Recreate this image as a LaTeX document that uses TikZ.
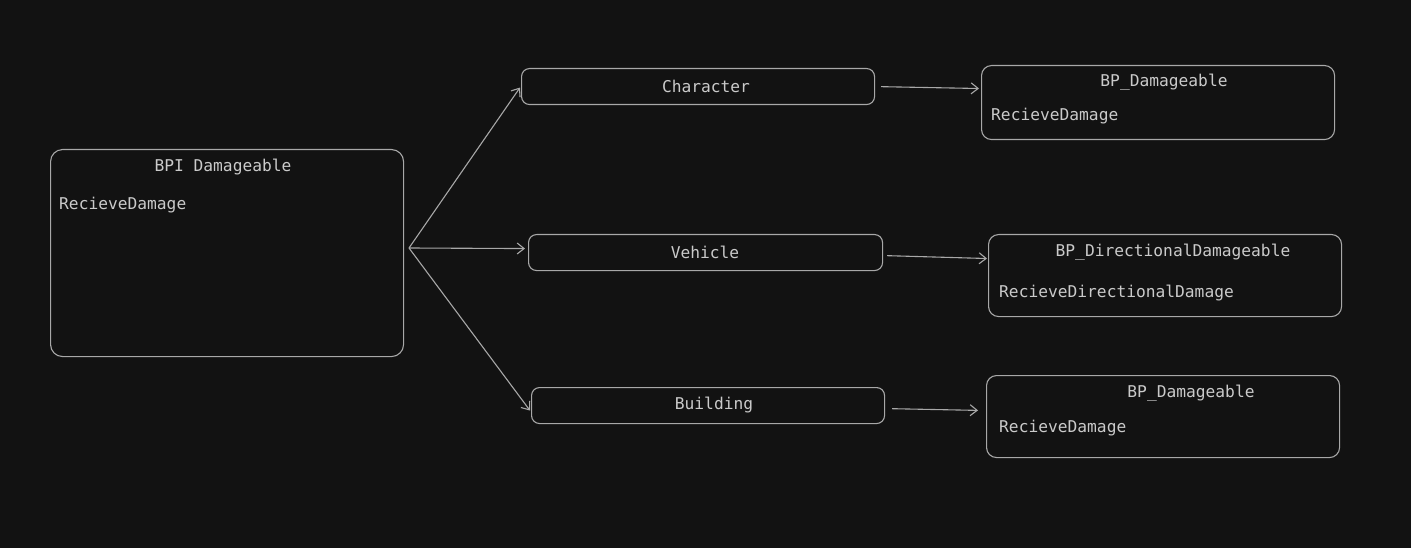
\documentclass[tikz,border=0pt]{standalone}
\usepackage{fontspec}
\setmonofont{DejaVu Sans Mono}
\usetikzlibrary{arrows.meta,calc}
\definecolor{bg}{HTML}{121212}
\definecolor{stroke}{HTML}{A8A8A8}
\definecolor{txt}{HTML}{CACACA}
\begin{document}
\begin{tikzpicture}[x=1bp,y=-1bp,
  font=\ttfamily\fontsize{16.3}{19}\selectfont,
  box/.style={draw=stroke, line width=1.1bp, rounded corners=8bp, inner sep=0pt, anchor=north west},
  lbl/.style={text=txt, inner sep=0pt},
  conn/.style={draw=stroke, line width=1.1bp, -{Straight Barb[length=7bp,width=11bp]}}]
\fill[bg] (0,0) rectangle (1411,548);
\useasboundingbox (0,0) rectangle (1411,548);

% left interface box
\node[box, rounded corners=12bp, minimum width=353bp, minimum height=207bp] (bpi) at (50,149) {};
\node[lbl] (bpititle) at (223,167.5) {BPI Damageable};
\node[lbl, anchor=west] (bpibody) at (59,205.5) {RecieveDamage};

% middle boxes
\node[box, minimum width=353bp, minimum height=36bp] (char) at (521,68) {};
\node[lbl] (chart) at (706,86) {Character};
\node[box, minimum width=354bp, minimum height=36bp] (veh) at (528,234) {};
\node[lbl] (veht) at (705,252) {Vehicle};
\node[box, minimum width=353bp, minimum height=36bp] (bld) at (531,387) {};
\node[lbl] (bldt) at (714,405.5) {Building};

% right boxes
\node[box, rounded corners=10bp, minimum width=353bp, minimum height=74bp] (d1) at (981,65) {};
\node[lbl] (d1t) at (1164,82.5) {BP\_Damageable};
\node[lbl, anchor=west] (d1b) at (991,116.5) {RecieveDamage};

\node[box, rounded corners=10bp, minimum width=353bp, minimum height=82bp] (d2) at (988,234) {};
\node[lbl] (d2t) at (1173,252.5) {BP\_DirectionalDamageable};
\node[lbl, anchor=west] (d2b) at (999,293.5) {RecieveDirectionalDamage};

\node[box, rounded corners=10bp, minimum width=353bp, minimum height=82bp] (d3) at (986,375) {};
\node[lbl] (d3t) at (1191,393.5) {BP\_Damageable};
\node[lbl, anchor=west] (d3b) at (999,428.5) {RecieveDamage};

% connectors
\coordinate (src) at (409,248);
\draw[conn] (src) -- ($(char.west)+(-1,1)$);
\draw[conn] (src) -- ($(veh.west)+(-3,-4)$);
\draw[conn] (src) -- ($(bld.west)+(-1,5)$);

\draw[conn, shorten <=6bp, shorten >=2bp] (char.east) -- ($(char.east -| d1.west)+(0,2)$);
\draw[conn, shorten <=4bp, shorten >=1bp] ($(veh.east)+(0,3)$) -- ($(veh.east -| d2.west)+(0,6)$);
\draw[conn, shorten <=7bp, shorten >=8bp] ($(bld.east)+(0,3)$) -- ($(bld.east -| d3.west)+(0,5)$);
\end{tikzpicture}
\end{document}
